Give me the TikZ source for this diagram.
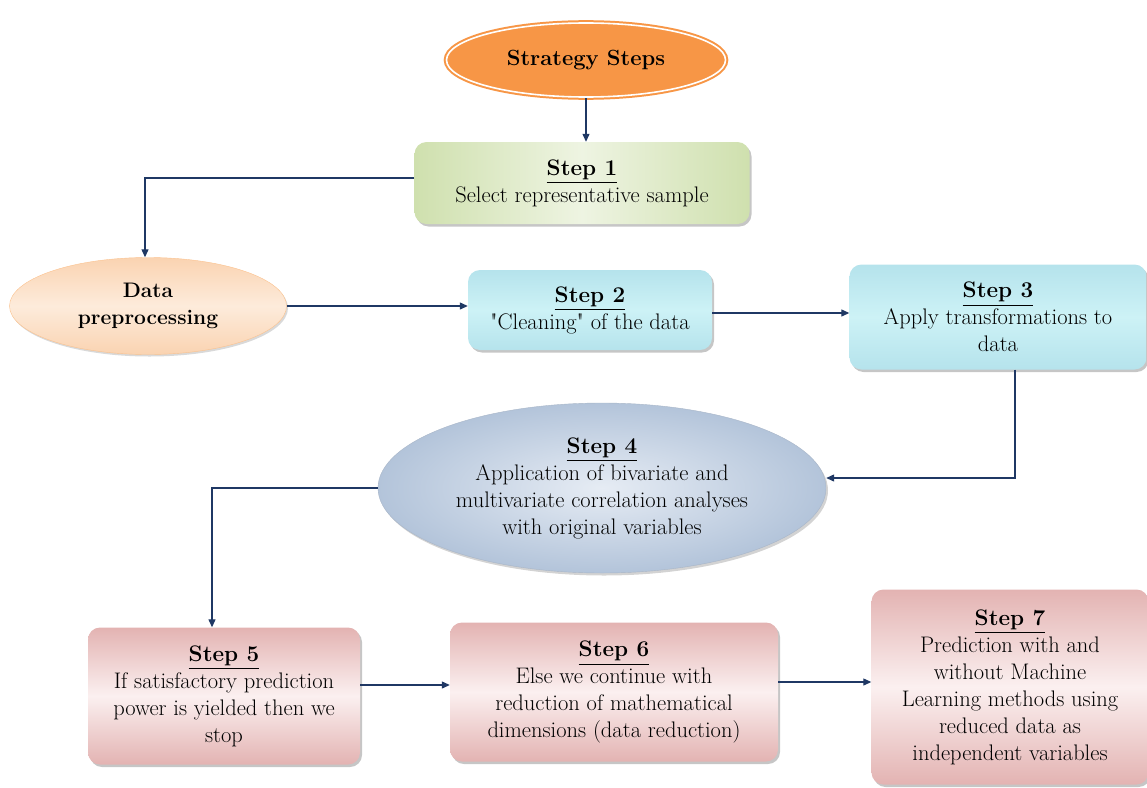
\documentclass[tikz,border=0pt]{standalone}
\usepackage{amsmath,amssymb}
\usepackage{fontspec}
\usepackage{tikz}
\usetikzlibrary{arrows.meta,shapes.geometric,shadows}
\newcommand{\sq}{\XeTeXglyph\XeTeXcharglyph"22\relax}
\definecolor{linkblue}{HTML}{1F3864}
\definecolor{titleor}{HTML}{F79646}
\definecolor{greenA}{HTML}{CFE0AE}
\definecolor{greenB}{HTML}{EEF4E2}
\definecolor{peachA}{HTML}{FAD3B1}
\definecolor{peachB}{HTML}{FDEBDB}
\definecolor{cyanA}{HTML}{B5E3EC}
\definecolor{cyanB}{HTML}{CDF2F6}
\definecolor{slateA}{HTML}{B3C4DA}
\definecolor{slateB}{HTML}{E6ECF4}
\definecolor{pinkA}{HTML}{E3B3B2}
\definecolor{pinkB}{HTML}{FBF0F0}

\begin{document}
\begin{tikzpicture}[x=1pt,y=-1pt,
  font=\fontsize{22.5}{27}\selectfont,
  stepbox/.style={rectangle,rounded corners=12pt,align=center,inner sep=2pt,
    drop shadow={shadow xshift=2pt,shadow yshift=-2.5pt,opacity=.45}},
  oval/.style={ellipse,align=center,inner sep=0pt},
  link/.style={draw=linkblue,line width=1.2pt,-{Triangle[length=8pt,width=7pt]}}]
\useasboundingbox (0,0) rectangle (1147,787);

% title and first step
\node[oval,fill=titleor,draw=titleor,double=white,double distance=1.6pt,line width=2pt,
  minimum width=279,minimum height=74,font=\fontsize{22}{27}\selectfont\bfseries]
  (title) at (586,60) {Strategy Steps};
\node[stepbox,left color=greenA,right color=greenA,middle color=greenB,
  minimum width=335,minimum height=82] (s1) at (582,183)
  {\textbf{\underline{Step 1}}\\ Select representative sample};

% preprocessing row
\node[oval,top color=peachA,bottom color=peachA,middle color=peachB,draw=peachA!80!orange,
  minimum width=277,minimum height=97,font=\fontsize{21}{27}\selectfont\bfseries,
  drop shadow={shadow xshift=1.5pt,shadow yshift=-2pt,opacity=.3}]
  (dp) at (148,306) {Data\\ preprocessing};
\node[stepbox,top color=cyanA,bottom color=cyanA,middle color=cyanB,
  minimum width=244,minimum height=80] (s2) at (590,310)
  {\textbf{\underline{Step 2}}\\ \sq Cleaning\sq{} of the data};
\node[stepbox,top color=cyanA,bottom color=cyanA,middle color=cyanB,
  minimum width=297,minimum height=105] (s3) at (998,317)
  {\textbf{\underline{Step 3}}\\ Apply transformations to\\ data};

% correlation analysis
\node[oval,inner color=slateB,outer color=slateA,draw=slateA!80!gray,
  minimum width=448,minimum height=170,
  drop shadow={shadow xshift=2pt,shadow yshift=-2.5pt,opacity=.35}] (s4) at (602,488)
  {\textbf{\underline{Step 4}}\\ Application of bivariate and\\
   multivariate correlation analyses\\ with original variables};

% last row
\node[stepbox,top color=pinkA,bottom color=pinkA,middle color=pinkB,
  minimum width=272,minimum height=137] (s5) at (224,696)
  {\textbf{\underline{Step 5}}\\ If satisfactory prediction\\ power is yielded then we\\ stop};
\node[stepbox,top color=pinkA,bottom color=pinkA,middle color=pinkB,
  minimum width=328,minimum height=139] (s6) at (614,692)
  {\textbf{\underline{Step 6}}\\ Else we continue with\\ reduction of mathematical\\
   dimensions (data reduction)};
\node[stepbox,top color=pinkA,bottom color=pinkA,middle color=pinkB,
  minimum width=277,minimum height=195] (s7) at (1010,687)
  {\textbf{\underline{Step 7}}\\ Prediction with and\\ without Machine\\
   Learning methods using\\ reduced data as\\ independent variables};

% connectors
\draw[link] (title.south) -- (title.south |- s1.north);
\draw[link] ([yshift=5pt]s1.west) -| ([xshift=-3pt]dp.north);
\draw[link] (dp.east) -- (dp.east -| s2.west);
\draw[link] ([yshift=-3pt]s2.east) -- ([yshift=-3pt]s2.east -| s3.west);
\draw[link] ([xshift=17pt]s3.south) |- ([yshift=10pt]s4.east);
\draw[link] (s4.west) -| ([xshift=-12pt]s5.north);
\draw[link] ([yshift=11pt]s5.east) -- ([yshift=11pt]s5.east -| s6.west);
\draw[link] ([yshift=10pt]s6.east) -- ([yshift=10pt]s6.east -| s7.west);
\end{tikzpicture}
\end{document}
